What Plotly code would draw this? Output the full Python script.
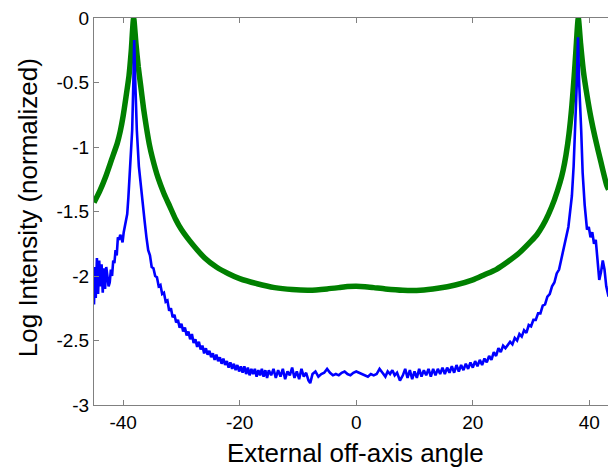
import plotly.graph_objects as go

# ---------------- data ----------------
green_x = [-45, -44, -43, -42, -41, -40.5, -40, -39.5, -39, -38.6, -38.2, -37.8, -37.4, -37,
           -36.5, -36, -35.5, -35, -34, -33, -32, -31, -30, -28, -26, -24, -22, -20, -17, -14,
           -11, -8, -5, -3, -1.5, 0, 1.5, 3, 5, 8, 11, 14, 17, 20, 22, 24, 26, 28, 30, 31, 32,
           33, 34, 35, 35.5, 36, 36.5, 37, 37.4, 37.7, 38.1, 38.5, 39, 39.6, 40.3, 41, 42, 43, 43.3]
green_y = [-1.43, -1.34, -1.23, -1.10, -0.97, -0.88, -0.76, -0.61, -0.45, -0.25, 0.0, -0.20,
           -0.38, -0.52, -0.70, -0.85, -0.98, -1.08, -1.24, -1.36, -1.46, -1.56, -1.64, -1.76,
           -1.86, -1.93, -1.98, -2.02, -2.06, -2.09, -2.105, -2.11, -2.10, -2.09, -2.082, -2.08,
           -2.083, -2.09, -2.10, -2.11, -2.11, -2.095, -2.07, -2.03, -1.99, -1.95, -1.89, -1.82,
           -1.73, -1.68, -1.61, -1.52, -1.41, -1.27, -1.18, -1.06, -0.90, -0.68, -0.45, -0.25,
           0.0, -0.20, -0.42, -0.60, -0.78, -0.93, -1.12, -1.30, -1.33]

blue_x = [-45, -44.85, -44.7, -44.5, -44.3, -44.1, -43.9, -43.7, -43.5, -43.3, -43.1, -42.9,
          -42.7, -42.5, -42.3, -42.1, -41.9, -41.7, -41.5, -41.3, -41.1, -40.9, -40.7, -40.5,
          -40.3, -40.1, -39.9, -39.6, -39.3, -39.1, -38.8, -38.45, -38.25, -38.1, -37.95, -37.65,
          -37.3, -36.8, -36.3, -36.0, -35.7, -35.4, -35.1, -34.8, -34.5, -34.2, -33.9, -33.6,
          -33.3, -33.0, -32.7, -32.4, -32.1, -31.8, -31.5, -31.2, -30.9, -30.6, -30.3, -30.0,
          -29.7, -29.4, -29.1, -28.8, -28.5, -28.2, -27.9, -27.6, -27.3, -27.0, -26.7, -26.4,
          -26.1, -25.8, -25.5, -25.2, -24.9, -24.6, -24.3, -24.0, -23.7, -23.4, -23.1, -22.8,
          -22.5, -22.2, -21.9, -21.6, -21.3, -21.0, -20.7, -20.4, -20.1, -19.8, -19.5, -19.2,
          -18.9, -18.6, -18.3, -18.0, -17.7, -17.4, -17.1, -16.8, -16.5, -16.2, -15.9, -15.6,
          -15.3, -15.0, -14.6, -14.2, -13.8, -13.4, -13.0, -12.6, -12.2, -11.8, -11.4, -11.0,
          -10.6, -10.2, -9.8, -9.4, -9.0, -8.6, -8.2, -7.9, -7.5, -7.0, -6.5, -6.0, -5.5, -5.0,
          -4.5, -4.0, -3.5, -3.0, -2.5, -2.0, -1.5, -1.0, -0.5, 0.0, 0.5, 1.0, 1.5, 2.0, 2.5,
          3.0, 3.5, 4.0, 4.5, 5.0, 5.4, 5.8, 6.2, 6.6, 7.0, 7.5, 8.0, 8.4, 8.8, 9.2, 9.6, 10.0,
          10.4, 10.8, 11.2, 11.6, 12.0, 12.4, 12.8, 13.2, 13.6, 14.0, 14.4, 14.8, 15.2, 15.6,
          16.0, 16.4, 16.8, 17.2, 17.6, 18.0, 18.4, 18.8, 19.2, 19.6, 20.0, 20.4, 20.8, 21.2,
          21.6, 22.0, 22.4, 22.8, 23.2, 23.6, 24.0, 24.4, 24.8, 25.2, 25.6, 26.0, 26.4, 26.8,
          27.2, 27.6, 28.0, 28.4, 28.8, 29.2, 29.6, 30.0, 30.4, 30.8, 31.2, 31.6, 32.0, 32.4,
          32.8, 33.2, 33.6, 34.0, 34.4, 34.8, 35.2, 35.6, 36.0, 36.4, 36.7, 37.0, 37.3, 37.55,
          37.85, 38.05, 38.25, 38.6, 38.85, 39.2, 39.6, 39.9, 40.2, 40.5, 40.8, 41.1, 41.4,
          41.7, 42.0, 42.3, 42.6, 42.9, 43.3]
blue_y = [-2.22, -1.93, -2.17, -1.86, -2.14, -1.88, -2.08, -1.91, -2.13, -1.94, -2.10, -1.93,
          -2.00, -2.08, -2.05, -1.95, -2.00, -1.88, -1.90, -1.80, -1.84, -1.70, -1.72, -1.68,
          -1.70, -1.74, -1.66, -1.60, -1.52, -1.39, -1.15, -0.87, -0.50, -0.17, -0.45, -0.87,
          -1.15, -1.39, -1.58, -1.70, -1.80, -1.84, -1.93, -1.94, -2.00, -2.01, -2.08, -2.07,
          -2.14, -2.13, -2.20, -2.19, -2.27, -2.25, -2.32, -2.30, -2.36, -2.34, -2.40, -2.37,
          -2.43, -2.40, -2.46, -2.43, -2.49, -2.45, -2.52, -2.49, -2.55, -2.51, -2.57, -2.54,
          -2.60, -2.56, -2.61, -2.58, -2.63, -2.60, -2.65, -2.61, -2.66, -2.63, -2.68, -2.64,
          -2.69, -2.66, -2.71, -2.67, -2.72, -2.68, -2.73, -2.69, -2.74, -2.70, -2.75, -2.70,
          -2.76, -2.71, -2.77, -2.72, -2.76, -2.72, -2.78, -2.73, -2.77, -2.72, -2.78, -2.73,
          -2.79, -2.73, -2.77, -2.72, -2.79, -2.73, -2.78, -2.72, -2.80, -2.74, -2.77, -2.71,
          -2.79, -2.74, -2.80, -2.72, -2.78, -2.75, -2.81, -2.83, -2.76, -2.74, -2.78, -2.76,
          -2.75, -2.72, -2.75, -2.77, -2.76, -2.77, -2.75, -2.74, -2.76, -2.77, -2.75, -2.74,
          -2.75, -2.76, -2.77, -2.78, -2.76, -2.77, -2.76, -2.72, -2.75, -2.78, -2.74, -2.76,
          -2.73, -2.77, -2.75, -2.81, -2.77, -2.72, -2.79, -2.73, -2.80, -2.74, -2.79, -2.72,
          -2.78, -2.73, -2.77, -2.72, -2.78, -2.72, -2.77, -2.72, -2.76, -2.71, -2.76, -2.71,
          -2.75, -2.70, -2.75, -2.69, -2.74, -2.69, -2.73, -2.68, -2.72, -2.67, -2.71, -2.66,
          -2.70, -2.65, -2.69, -2.64, -2.67, -2.62, -2.65, -2.59, -2.62, -2.56, -2.59, -2.54,
          -2.56, -2.53, -2.51, -2.53, -2.48, -2.50, -2.45, -2.47, -2.42, -2.44, -2.38, -2.39,
          -2.34, -2.34, -2.29, -2.29, -2.23, -2.22, -2.16, -2.14, -2.08, -2.05, -1.98, -1.95,
          -1.87, -1.80, -1.72, -1.62, -1.50, -1.38, -1.15, -0.87, -0.50, -0.15, -0.50, -0.87,
          -1.20, -1.45, -1.64, -1.62, -1.70, -1.66, -1.75, -1.72, -1.90, -2.03, -1.97, -1.88,
          -1.95, -2.08, -2.16]

x_tickvals = [-40, -20, 0, 20, 40]
x_ticktext = ["-40", "-20", "0", "20", "40"]
y_tickvals = [0, -0.5, -1, -1.5, -2, -2.5, -3]
y_ticktext = ["0", "-0.5", "-1", "-1.5", "-2", "-2.5", "-3"]

x_title = "External off-axis angle"
y_title = "Log Intensity (normalized)"

# ---------------- figure ----------------
font_family = "Liberation Sans, Arial, Helvetica, sans-serif"

fig = go.Figure()
fig.add_trace(go.Scatter(x=green_x, y=green_y, mode="lines",
                         line=dict(color="#008000", width=5.5, shape="spline", smoothing=0.6),
                         showlegend=False, hoverinfo="skip"))
fig.add_trace(go.Scatter(x=blue_x, y=blue_y, mode="lines",
                         line=dict(color="#0000FF", width=2.6),
                         showlegend=False, hoverinfo="skip"))

axis_common = dict(showgrid=False, zeroline=False, showline=True, linecolor="#808080",
                   linewidth=1, ticks="inside", ticklen=5, tickcolor="#808080",
                   tickfont=dict(family=font_family, size=19, color="black"))

fig.update_xaxes(range=[-45, 43.2], tickvals=x_tickvals, ticktext=x_ticktext,
                 mirror="ticks", **axis_common)
fig.update_yaxes(range=[-3, 0], tickvals=y_tickvals, ticktext=y_ticktext,
                 mirror=False, **axis_common)

fig.add_annotation(text=x_title, xref="paper", yref="paper", x=0.508, y=-0.124,
                   xanchor="center", yanchor="middle", showarrow=False,
                   font=dict(family=font_family, size=26, color="black"))
fig.add_annotation(text=y_title, xref="paper", yref="paper", x=-0.128, y=0.509,
                   xanchor="center", yanchor="middle", showarrow=False, textangle=-90,
                   font=dict(family=font_family, size=26, color="black"))

fig.update_layout(width=608, height=471, margin=dict(l=94, r=0, t=18, b=66),
                  paper_bgcolor="white", plot_bgcolor="white")

fig.write_html("out.html",
               config={"displayModeBar": False, "staticPlot": True},
               post_script="document.body.style.margin='0';document.body.style.overflow='hidden';")
